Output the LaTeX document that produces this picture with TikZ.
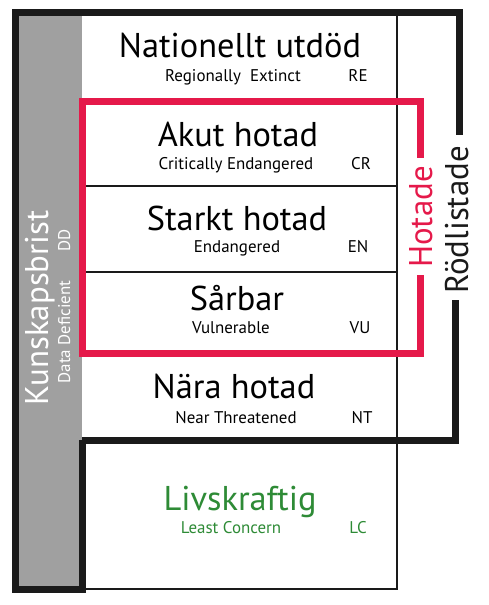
\documentclass[tikz,border=0pt]{standalone}
\usepackage{fontspec}
\setmainfont{PT Sans}
\definecolor{redl}{HTML}{E5194A}
\definecolor{greyf}{HTML}{A0A0A0}
\definecolor{blk}{HTML}{1A1A1A}
\definecolor{grn}{HTML}{2E8B36}
\begin{document}
\begin{tikzpicture}[x=1bp,y=-1bp,
  title/.style={anchor=base,inner sep=0pt,font=\fontsize{34.5}{38}\selectfont},
  rtitle/.style={anchor=base,inner sep=0pt,font=\fontsize{33}{36}\selectfont},
  sub/.style={anchor=base,inner sep=0pt,font=\fontsize{17}{20}\selectfont},
  thin/.style={draw=blk,line width=1.3bp},
  thick/.style={draw=blk,line width=7bp},
  redframe/.style={draw=redl,line width=7bp}]
\useasboundingbox (0,0) rectangle (489,605);
% grey column
\fill[greyf] (15,13) rectangle (82,589);
% white main column
\fill[white] (82,13) rectangle (397,589);
% thin lines
\draw[thin] (397,13) -- (397,589) -- (82,589);
\draw[thin] (82,186) -- (397,186);
\draw[thin] (82,272) -- (397,272);
% thick black frame
\coordinate (b1) at (82,440);
\coordinate (b2) at (82,589);
\coordinate (b3) at (15,589);
\coordinate (b4) at (15,13);
\coordinate (b5) at (459,13);
\coordinate (b6) at (459,135);
\coordinate (b7) at (455,300);
\coordinate (b8) at (455,440);
\draw[thick,line join=miter] (b1) -- (b2) -- (b3) -- (b4) -- (b5) -- (b6);
\draw[thick,line join=miter] (b7) -- (b8) -- (b1);
% red frame
\coordinate (r1) at (420,158);
\coordinate (r2) at (420,101.5);
\coordinate (r3) at (82,101.5);
\coordinate (r4) at (82,353);
\coordinate (r5) at (420,353);
\coordinate (r6) at (420,275);
\draw[redframe,line join=miter] (r1) -- (r2) -- (r3) -- (r4) -- (r5) -- (r6);
% texts
\node[title] (t1) at (240,58) {Nationellt utdöd};
\node[sub] (s1) at (233,82) {Regionally\ \ Extinct};
\node[sub] (c1) at (358,82) {RE};
\node[title] (t2) at (238,147) {Akut hotad};
\node[sub] (s2) at (236,170) {Critically Endangered};
\node[sub] (c2) at (361,170) {CR};
\node[title] (t3) at (237,230) {Starkt hotad};
\node[sub] (s3) at (237,252) {Endangered};
\node[sub] (c3) at (358,252) {EN};
\node[title] (t4) at (237,310) {Sårbar};
\node[sub] (s4) at (231,333) {Vulnerable};
\node[sub] (c4) at (360,333) {VU};
\node[title] (t5) at (234,398) {Nära hotad};
\node[sub] (s5) at (236,423) {Near Threatened};
\node[sub] (c5) at (362,423) {NT};
\node[title,text=grn] (t6) at (240,510) {Livskraftig};
\node[sub,text=grn] (s6) at (231,533) {Least Concern};
\node[sub,text=grn] (c6) at (358,533) {LC};
% rotated texts
\node[rtitle,text=white,rotate=90] (k) at (48,308) {Kunskapsbrist};
\node[sub,text=white,rotate=90] (dd1) at (70,332) {Data Deficient};
\node[sub,text=white,rotate=90] (dd2) at (70,240) {DD};
\node[rtitle,text=redl,rotate=90] (h) at (432,217) {Hotade};
\node[rtitle,text=blk,rotate=90] (rl) at (468,220) {Rödlistade};
\end{tikzpicture}
\end{document}
